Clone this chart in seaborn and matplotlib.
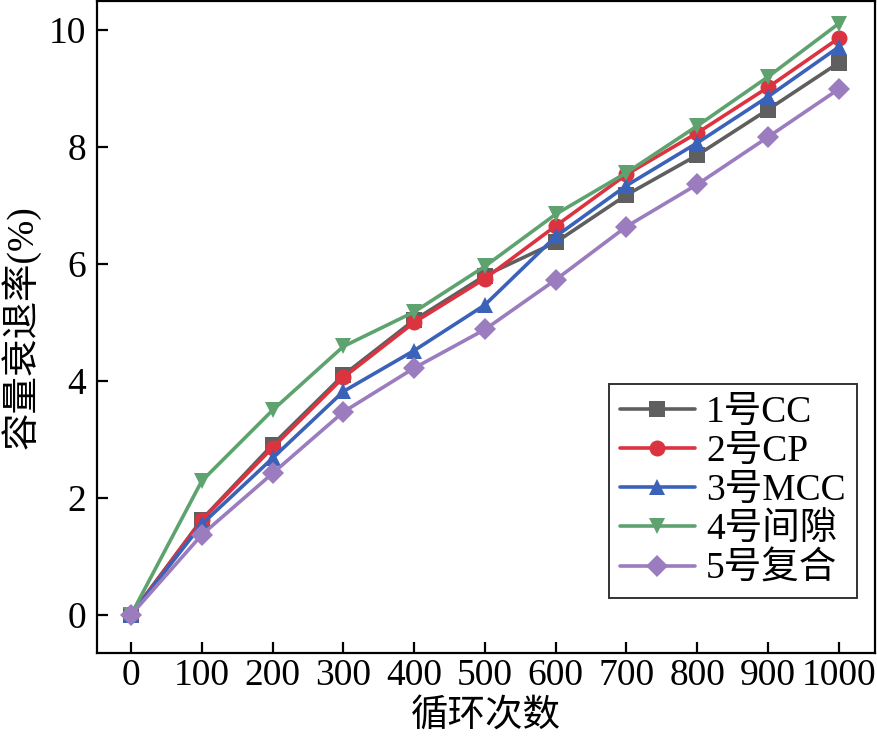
import pandas as pd
import matplotlib.pyplot as plt
import seaborn as sb

# 循环次数
cycles = [0, 100, 200, 300, 400, 500, 600, 700, 800, 900, 1000]

names = ["1号CC", "2号CP", "3号MCC", "4号间隙", "5号复合"]
cc = [0, 1.63, 2.91, 4.10, 5.04, 5.80, 6.37, 7.18, 7.86, 8.64, 9.44]
cp = [0, 1.62, 2.86, 4.06, 5.00, 5.75, 6.65, 7.53, 8.24, 9.02, 9.86]
mcc = [0, 1.55, 2.68, 3.82, 4.52, 5.30, 6.47, 7.34, 8.07, 8.86, 9.71]
jianxi = [0, 2.29, 3.50, 4.59, 5.18, 5.96, 6.85, 7.56, 8.36, 9.20, 10.11]
fuhe = [0, 1.37, 2.42, 3.47, 4.22, 4.88, 5.73, 6.64, 7.36, 8.17, 8.99]

colores = ["#5f5f5f", "#dc3340", "#3a62b8", "#5ea36f", "#9a7cbf"]
marcadores = ["s", "o", "^", "v", "D"]

df = pd.DataFrame({
    "循环次数": cycles * 5,
    "容量衰退率": cc + cp + mcc + jianxi + fuhe,
    "样品": [n for n in names for _ in cycles],
})

sb.set_style("ticks")
plt.rcParams["font.family"] = ["Liberation Serif", "Noto Sans CJK SC"]
plt.rcParams["text.color"] = "black"
plt.rcParams["axes.labelcolor"] = "black"
plt.rcParams["xtick.color"] = "black"
plt.rcParams["ytick.color"] = "black"

fig = plt.figure(figsize=(8.77, 7.37), dpi=100)
ax = fig.add_axes([0.1106, 0.114, 0.887, 0.885])

sb.lineplot(data=df, x="循环次数", y="容量衰退率", hue="样品", style="样品",
            hue_order=names, style_order=names,
            palette=dict(zip(names, colores)),
            markers=dict(zip(names, marcadores)), dashes=False,
            linewidth=2.6, markersize=11.5, markeredgewidth=0, ax=ax)

ax.set_xlim(-48, 1051)
ax.set_ylim(-0.65, 10.5)
ax.set_xticks(cycles)
ax.set_yticks([0, 2, 4, 6, 8, 10])
ax.tick_params(direction="in", length=8, width=1.6, labelsize=27)
ax.tick_params(axis="x", pad=4)
ax.tick_params(axis="y", pad=8)
for s in ax.spines.values():
    s.set_linewidth(1.6)
    s.set_color("black")

ax.set_xlabel("循环次数", fontsize=27, labelpad=4)
ax.set_ylabel("容量衰退率(%)", fontsize=27, labelpad=6)

leg = ax.legend(loc="lower right", bbox_to_anchor=(0.977, 0.084), fontsize=27,
                frameon=True, fancybox=False, edgecolor="black",
                handlelength=2.0, handletextpad=0.3, labelspacing=0.12,
                borderpad=0.3, borderaxespad=0)
leg.get_frame().set_linewidth(1.4)

plt.savefig("out.png", dpi=100)
